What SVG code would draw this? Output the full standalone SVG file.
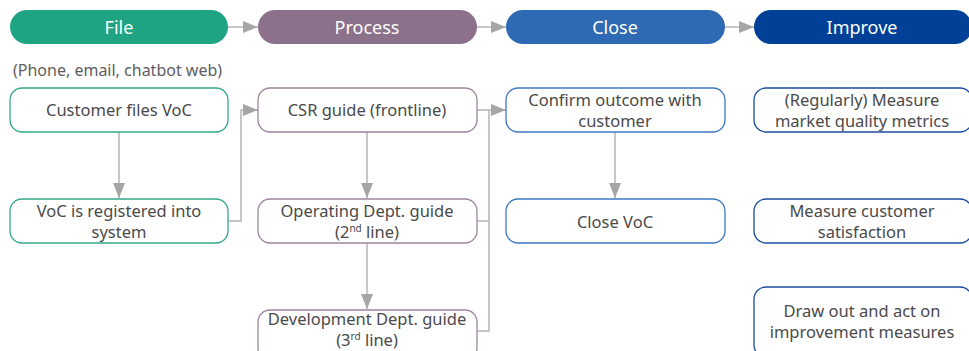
<svg xmlns="http://www.w3.org/2000/svg" width="969" height="351" viewBox="0 0 969 351">
<defs>
<marker id="ah" markerWidth="15" markerHeight="12" refX="15" refY="6" orient="auto" markerUnits="userSpaceOnUse">
<path d="M0,0 L15,6 L0,12 Z" fill="#a6a6a6"/>
</marker>
<style>
.hd{font-family:"Noto Sans","Open Sans",sans-serif;font-size:18px;fill:#fff;text-anchor:middle}
.t{font-family:"Noto Sans","Open Sans",sans-serif;font-size:16.5px;fill:#4a4a4a;text-anchor:middle}
.note{font-family:"Noto Sans","Open Sans",sans-serif;font-size:16px;fill:#5e5e5e}
.sup{font-size:10px}
.c{fill:none;stroke:#b4b4b4;stroke-width:1.5}
.bx{fill:#fff;stroke-width:1.3}
.g{stroke:#35a88c}.p{stroke:#9c869b}.b{stroke:#3f78c2}.d{stroke:#1c4c9e}
</style>
</defs>
<rect width="969" height="351" fill="#fff"/>
<g id="connectors">
<line class="c" x1="228" y1="27" x2="258" y2="27" marker-end="url(#ah)"/>
<line class="c" x1="477" y1="27" x2="506" y2="27" marker-end="url(#ah)"/>
<line class="c" x1="725" y1="27" x2="754" y2="27" marker-end="url(#ah)"/>
<line class="c" x1="119" y1="132" x2="119" y2="198" marker-end="url(#ah)"/>
<polyline class="c" points="228,221 241,221 241,110 258,110" marker-end="url(#ah)"/>
<line class="c" x1="367" y1="132" x2="367" y2="198" marker-end="url(#ah)"/>
<line class="c" x1="367" y1="243" x2="367" y2="309" marker-end="url(#ah)"/>
<polyline class="c" points="477,110 489,110"/>
<polyline class="c" points="477,221 489,221"/>
<polyline class="c" points="477,331 489,331 489,110 506,110" marker-end="url(#ah)"/>
<line class="c" x1="615" y1="132" x2="615" y2="198" marker-end="url(#ah)"/>
</g>
<g id="h-file"><rect x="10" y="10" width="218" height="34" rx="17" fill="#1fa483"/><text class="hd" x="119" y="33.5">File</text></g>
<g id="h-process"><rect x="258" y="10" width="219" height="34" rx="17" fill="#8b7189"/><text class="hd" x="367" y="33.5">Process</text></g>
<g id="h-close"><rect x="506" y="10" width="219" height="34" rx="17" fill="#2e69b3"/><text class="hd" x="615" y="33.5">Close</text></g>
<g id="h-improve"><rect x="754" y="10" width="218" height="34" rx="17" fill="#004097"/><text class="hd" x="862" y="33.5">Improve</text></g>
<g id="note"><text class="note" x="13" y="76">(Phone, email, chatbot web)</text></g>
<g id="n-files"><rect class="bx g" x="10" y="88" width="218" height="44" rx="12"/><text class="t" x="119" y="116">Customer files VoC</text></g>
<g id="n-registered"><rect class="bx g" x="10" y="199" width="218" height="44" rx="12"/><text class="t" x="119" y="217">VoC is registered into</text><text class="t" x="119" y="238">system</text></g>
<g id="n-csr"><rect class="bx p" x="258" y="88" width="219" height="44" rx="12"/><text class="t" x="367" y="116">CSR guide (frontline)</text></g>
<g id="n-operating"><rect class="bx p" x="258" y="199" width="219" height="44" rx="12"/><text class="t" x="367" y="217">Operating Dept. guide</text><text class="t" x="367" y="238">(2<tspan class="sup" dy="-6">nd</tspan><tspan dy="6"> line)</tspan></text></g>
<g id="n-development"><rect class="bx p" x="258" y="310" width="219" height="50" rx="12"/><text class="t" x="367" y="325">Development Dept. guide</text><text class="t" x="367" y="346">(3<tspan class="sup" dy="-6">rd</tspan><tspan dy="6"> line)</tspan></text></g>
<g id="n-confirm"><rect class="bx b" x="506" y="88" width="219" height="44" rx="12"/><text class="t" x="615" y="106">Confirm outcome with</text><text class="t" x="615" y="127">customer</text></g>
<g id="n-closevoc"><rect class="bx b" x="506" y="199" width="219" height="44" rx="12"/><text class="t" x="615" y="228">Close VoC</text></g>
<g id="n-measure-market"><rect class="bx d" x="754" y="88" width="218" height="44" rx="12"/><text class="t" x="862" y="106">(Regularly) Measure</text><text class="t" x="862" y="127">market quality metrics</text></g>
<g id="n-measure-sat"><rect class="bx d" x="754" y="199" width="218" height="44" rx="12"/><text class="t" x="862" y="217">Measure customer</text><text class="t" x="862" y="238">satisfaction</text></g>
<g id="n-draw"><rect class="bx d" x="754" y="287" width="218" height="70" rx="12"/><text class="t" x="862" y="317">Draw out and act on</text><text class="t" x="862" y="338">improvement measures</text></g>
</svg>
